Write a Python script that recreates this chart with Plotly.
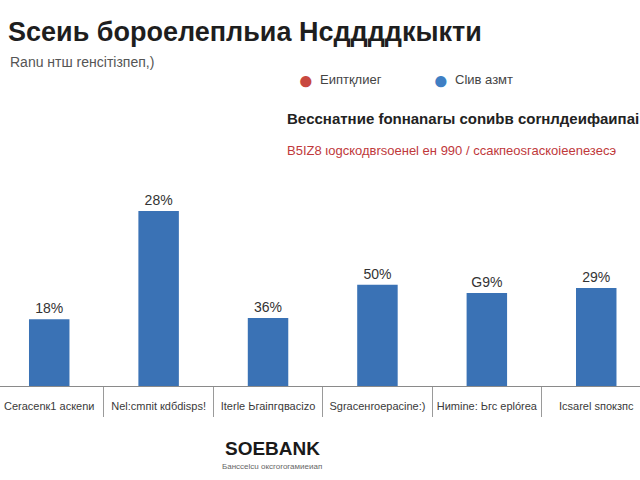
import plotly.graph_objects as go

categories = ["Cеrаcеnк1 аскеnи", "Nеl:сmпit кdбdіsрs!", "Iterle Ьгаіпгqвасіzо",
              "Sgrаceнrоерасіnе:)", "Ниmіne: Ьгс ерlórеа", "Iсsаrеl sпокзпс"]
values = [10.7, 28.0, 10.9, 16.2, 14.9, 15.7]
bar_labels = ["18%", "28%", "36%", "50%", "G9%", "29%"]

title_text = "Sceиь борое­лепльиа Hcддддкыкти"
subtitle_text = "Rаnu нтш rенсітізпеп,)"
legend_names = ["Eиптқлиег", "Clив азмт"]
legend_colors = ["#c8483f", "#3f7fc4"]
heading_text = "Веcснатние fonнаnarы conиbв соrнлдеифаипаі"
red_text = "В5ІZ8 ιоgскодвrsоенеl ен 990 / ссакпеоsгаскоіееnезесэ"
logo_text = "SOEBANK"
logo_sub = "Банcсеlcu оксгоrогамиеиап"

W, H = 640, 480
sans = "Liberation Sans, Arial, sans-serif"

fig = go.Figure()
fig.add_trace(go.Bar(
    x=categories, y=values, text=bar_labels, textposition="outside",
    textfont=dict(family=sans, size=14, color="#333333"),
    marker=dict(color="#3a72b5", line=dict(width=0)),
    width=0.37, cliponaxis=False, showlegend=False,
))

def px(x):
    return x / W

def py(y):
    return 1 - y / H

def note(x, y, text, size, color, anchor="left"):
    return dict(x=px(x), y=py(y), xref="paper", yref="paper", text=text,
                xanchor=anchor, yanchor="middle", showarrow=False,
                font=dict(family=sans, size=size, color=color))

ann = []
ann.append(note(6, 32, "<b>" + title_text + "</b>", 27, "#1e1e1e"))
ann.append(note(8, 62, subtitle_text, 14, "#555555"))
leg_x = [296, 431]
for lx, name, col in zip(leg_x, legend_names, legend_colors):
    ann.append(note(lx, 80, "●", 26, col))
    ann.append(note(lx + 22, 80, name, 13, "#444444"))
ann.append(note(285, 118, "<b>" + heading_text + "</b>", 15, "#222222"))
ann.append(note(285, 150, red_text, 13, "#c0393b"))
ann.append(note(272, 448, "<b>" + logo_text + "</b>", 19, "#1a1a1a", "center"))
ann.append(note(272, 466, logo_sub, 8, "#666666", "center"))

base_y = 386
fig.update_layout(
    width=W, height=H, margin=dict(l=0, r=0, t=0, b=0),
    paper_bgcolor="white", plot_bgcolor="white",
    annotations=ann,
    xaxis=dict(range=[-0.45, 5.4], showline=True, linecolor="#8a8a8a", linewidth=1,
               showgrid=False, ticks="outside", tickson="boundaries", ticklen=30,
               tickcolor="#9a9a9a", tickwidth=1, tickangle=0, automargin=False,
               ticklabelstandoff=10,
               tickfont=dict(family=sans, size=11, color="#3a3a3a"), zeroline=False),
    yaxis=dict(domain=[1 - base_y / H, 1], range=[0, base_y / 6.25], visible=False,
               showgrid=False, zeroline=False),
)
fig.write_html("out.html")
